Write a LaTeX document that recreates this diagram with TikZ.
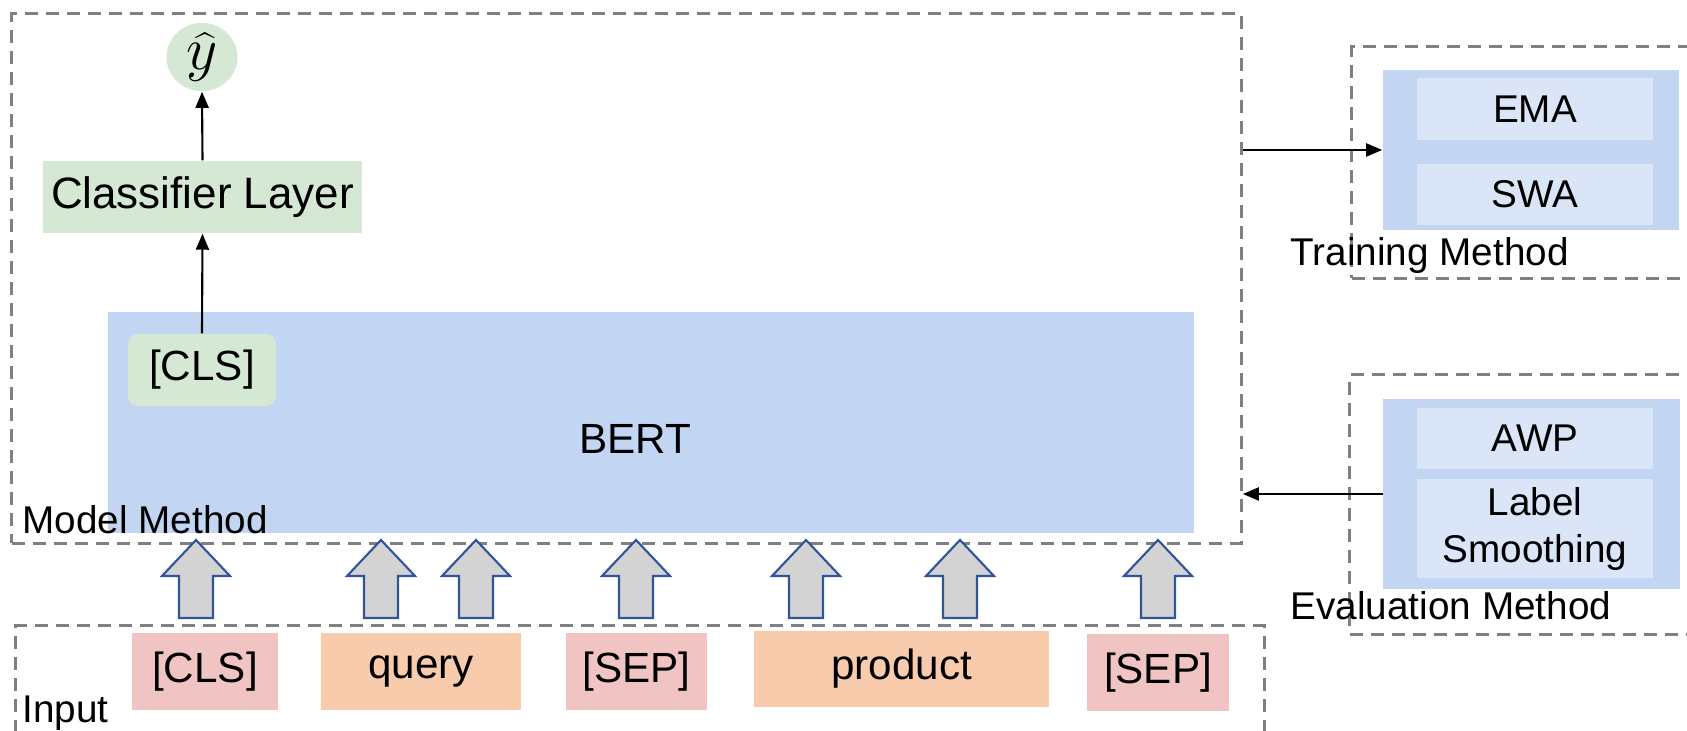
\documentclass[tikz,border=0pt]{standalone}
\usepackage{fontspec}
\setmainfont{Liberation Sans}
\usetikzlibrary{positioning,shapes.geometric,arrows.meta}
\definecolor{boxgreen}{RGB}{213,232,212}
\definecolor{bertblue}{RGB}{194,214,243}
\definecolor{optionblue}{RGB}{218,230,247}
\definecolor{tokenpink}{RGB}{241,196,196}
\definecolor{tokenorange}{RGB}{248,203,173}
\definecolor{framegray}{RGB}{128,128,128}
\definecolor{arrowgray}{RGB}{211,211,211}
\definecolor{arrowblue}{RGB}{47,85,151}
\tikzset{
  % Specifications for style of nodes:
  base/.style = {
    rectangle,
    inner sep=0pt,
    text centered,
    font=\fontsize{12}{14}\selectfont
  },
  frame/.style = {
    rectangle,
    inner sep=0pt,
    draw=framegray,
    line width=0.85pt,
    dash pattern=on 0.13cm off 0.08cm
  },
  layer/.style = {
    base,
    fill=boxgreen
  },
  token/.style = {
    base,
    minimum height=0.77cm
  },
  special/.style = {
    token,
    fill=tokenpink
  },
  segment/.style = {
    token,
    fill=tokenorange
  },
  method/.style = {
    base,
    fill=bertblue,
    minimum width=2.96cm
  },
  option/.style = {
    base,
    fill=optionblue,
    minimum width=2.36cm,
    minimum height=0.61cm,
    font=\fontsize{11}{13.4}\selectfont
  },
  caption/.style = {
    inner sep=0pt,
    font=\fontsize{11}{13}\selectfont
  },
  flow/.style = {
    -{Triangle[length=0.16cm,width=0.13cm]},
    line width=0.6pt
  },
  blockarrow/.style = {
    draw=arrowblue,
    fill=arrowgray,
    line width=0.6pt
  },
}

\begin{document}
\begin{tikzpicture}[x=0.01cm, y=-0.01cm]
    \clip (0,0) rectangle (1687,731);
    % Specification of nodes (position, etc.)
    \node[frame, minimum width=12.29cm, minimum height=5.29cm]              (model)     at (626.5,278.5)  {};
    \node[frame, minimum width=3.48cm, minimum height=2.31cm]               (training)  at (1526,162.5)   {};
    \node[frame, minimum width=3.50cm, minimum height=2.59cm]               (evaluation) at (1525,504.5)  {};
    \node[frame, minimum width=12.48cm, minimum height=1.19cm]              (input)     at (640,685.5)    {};
    \node[layer, ellipse, minimum width=0.71cm, minimum height=0.62cm]      (yhat)      at (202,57)       {\fontsize{16}{18}\selectfont$\widehat{y}$};
    \node[layer, minimum width=3.19cm, minimum height=0.72cm]               (classifier) at (202.5,197)   {\fontsize{12.5}{15}\selectfont Classifier Layer};
    \node[base, fill=bertblue, minimum width=10.86cm, minimum height=2.21cm] (bert)     at (651,422.5)    {};
    \node[base]                                                             (berttext)  at (635,439)      {BERT};
    \node[layer, rounded corners=0.1cm, minimum width=1.48cm, minimum height=0.72cm] (bertcls) at (202,370) {[CLS]};
    \node[caption, anchor=base west]                                        (modellabel) at (22,534)      {Model Method};
    % input sequence
    \node[special, minimum width=1.46cm]                                    (cls)       at (205,671.5)    {[CLS]};
    \node[segment, minimum width=2.00cm]                                    (query)     at (421,671.5)    {query};
    \node[special, minimum width=1.41cm]                                    (sep1)      at (636.5,671.5)  {[SEP]};
    \node[segment, minimum width=2.95cm, minimum height=0.76cm]             (product)   at (901.5,669)    {product};
    \node[special, minimum width=1.42cm]                                    (sep2)      at (1158,672.5)   {[SEP]};
    \node[caption, anchor=base west]                                        (inputlabel) at (22,723)      {Input};
    % training and evaluation methods
    \node[method, minimum height=1.60cm]                                    (trainbox)  at (1531,150)     {};
    \node[option]                                                           (ema)       at (1535,109)     {EMA};
    \node[option, below=0.23cm of ema]                                      (swa)                         {SWA};
    \node[caption, anchor=base west]                                        (trainlabel) at (1290,266)    {Training Method};
    \node[method, minimum height=1.90cm]                                    (evalbox)   at (1531.5,494)   {};
    \node[option]                                                           (awp)       at (1535,438.5)   {AWP};
    \node[option, align=center, minimum height=0.99cm, below=0.09cm of awp] (smoothing)                   {Label\\Smoothing};
    \node[caption, anchor=base west]                                        (evallabel) at (1290,620)     {Evaluation Method};
    % connectors
    \draw[flow] (classifier.north) -- (yhat.south);
    \draw[flow] (bertcls.north) -- (classifier.south);
    \draw[flow] (model.east |- trainbox.west) -- (trainbox.west);
    \draw[flow] (evalbox.west) -- (model.east |- evalbox.west);
    % token arrows into BERT
    \foreach \x in {196,381,476,636,806,960,1158}
      \draw[blockarrow] (\x-17,618) -- (\x+17,618) -- (\x+17,576) -- (\x+34,576)
        -- (\x,540) -- (\x-34,576) -- (\x-17,576) -- cycle;
\end{tikzpicture}
\end{document}
